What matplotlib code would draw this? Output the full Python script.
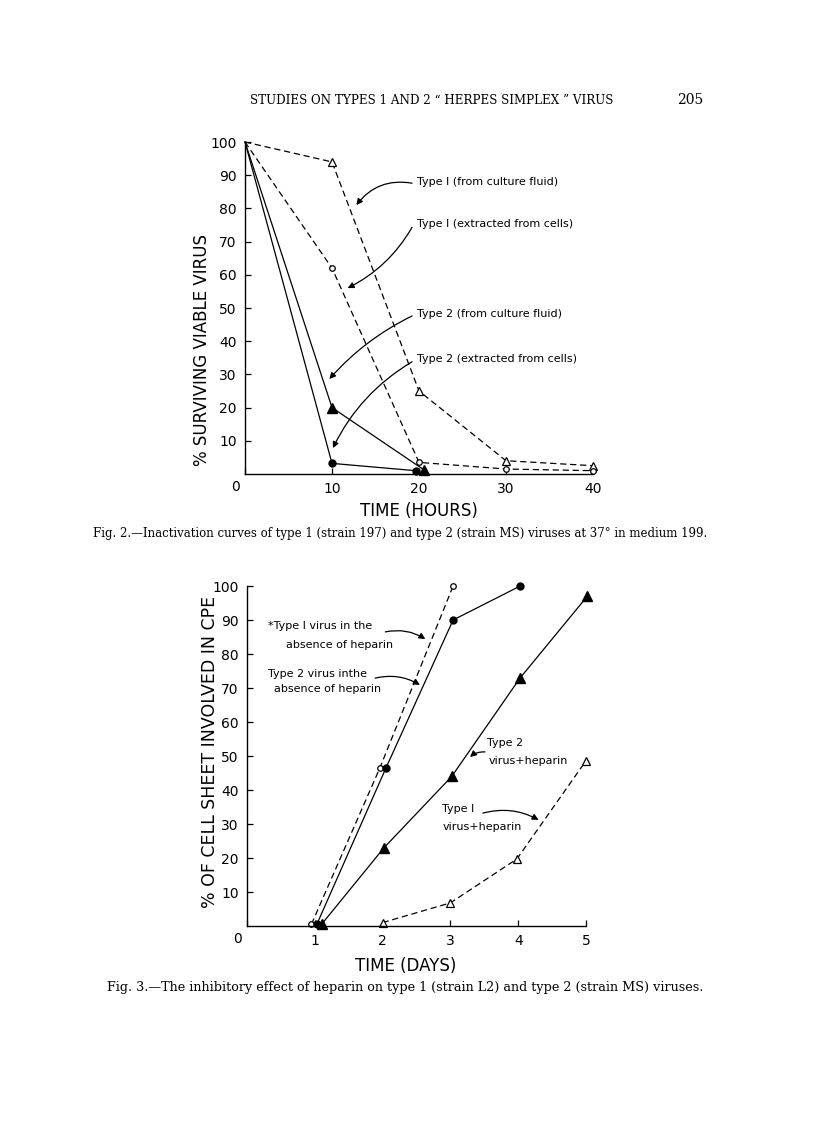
import matplotlib
matplotlib.use("Agg")
import matplotlib.pyplot as plt
from matplotlib.transforms import ScaledTranslation

# ---------------- Data: Fig. 2 (hours) ----------------
t1_fluid_x = [0, 10, 20, 30, 40]
t1_fluid_y = [100, 94, 25, 4, 2.5]
t1_cells_x = [0, 10, 20, 30, 40]
t1_cells_y = [100, 62, 3.5, 1.5, 1]
t2_fluid_x = [0, 10, 20.6]
t2_fluid_y = [100, 20, 1.2]
t2_cells_x = [0, 10, 19.6]
t2_cells_y = [100, 3.2, 1]
fig2_xticks = [0, 10, 20, 30, 40]
fig2_xticklabels = ['', '10', '20', '30', '40']
fig2_yticks = [10, 20, 30, 40, 50, 60, 70, 80, 90, 100]

# ---------------- Data: Fig. 3 (days) ----------------
t1_nohep_x = [0.95, 1.96, 3.04]
t1_nohep_y = [0.5, 46.5, 100]
t2_nohep_x = [1.03, 2.05, 3.04, 4.03]
t2_nohep_y = [0.5, 46.5, 90, 100]
t2_hep_x = [1.1, 2.02, 3.02, 4.03, 5.02]
t2_hep_y = [0.5, 23, 44, 73, 97]
t1_hep_x = [2.0, 3.0, 3.98, 5.0]
t1_hep_y = [1, 6.8, 19.7, 48.6]
fig3_xticks = [0, 1, 2, 3, 4, 5]
fig3_xticklabels = ['', '1', '2', '3', '4', '5']
fig3_yticks = [10, 20, 30, 40, 50, 60, 70, 80, 90, 100]

plt.rcParams['font.family'] = ['DejaVu Sans']

W, H = 816, 1128
fig = plt.figure(figsize=(W / 100, H / 100), dpi=100)
fig.patch.set_facecolor('white')

LW = 0.9
DASH = (0, (5, 3))
ARW = dict(arrowstyle='-|>', lw=0.9, color='black', mutation_scale=9, shrinkA=0, shrinkB=0)


def style_axes(ax, xlim, ylim, xticks, xticklabels, yticks):
    ax.set_xlim(*xlim)
    ax.set_ylim(*ylim)
    for s in ['top', 'right']:
        ax.spines[s].set_visible(False)
    for s in ['left', 'bottom']:
        ax.spines[s].set_linewidth(1.0)
    ax.set_xticks(xticks)
    ax.set_xticklabels(xticklabels)
    ax.set_yticks(yticks)
    ax.tick_params(direction='in', length=4, width=0.9, labelsize=10, pad=6)
    ax.patch.set_alpha(0)
    # corner "0" label, set slightly left of the origin as in the original
    off = ScaledTranslation(-9 / 100, -6 / 100, fig.dpi_scale_trans)
    ax.text(0, 0, '0', fontsize=10, ha='center', va='top',
            transform=ax.transData + off, clip_on=False)


# ---------------- Fig. 2 axes ----------------
ax1 = fig.add_axes([245 / W, 1 - 474 / H, 348 / W, 332 / H])
style_axes(ax1, (0, 40), (0, 100), fig2_xticks, fig2_xticklabels, fig2_yticks)
skip0 = slice(1, None)
ax1.plot(t1_fluid_x, t1_fluid_y, ls=DASH, lw=LW, color='black', marker='^', mfc='white',
         mec='black', ms=6, mew=0.9, markevery=skip0, clip_on=False)
ax1.plot(t1_cells_x, t1_cells_y, ls=DASH, lw=LW, color='black', marker='o', mfc='white',
         mec='black', ms=4, mew=0.9, markevery=skip0, clip_on=False)
ax1.plot(t2_fluid_x, t2_fluid_y, ls='-', lw=LW, color='black', marker='^', mfc='black',
         mec='black', ms=7, markevery=skip0, clip_on=False)
ax1.plot(t2_cells_x, t2_cells_y, ls='-', lw=LW, color='black', marker='o', mfc='black',
         mec='black', ms=5, markevery=skip0, clip_on=False)
ax1.set_xlabel('TIME (HOURS)', fontsize=12)
ax1.xaxis.set_label_coords(0.5, -28 / 332)
ax1.set_ylabel('% SURVIVING VIABLE VIRUS', fontsize=12)
ax1.yaxis.set_label_coords(-34 / 348, 0.5 - 42 / 332)

lbl_kw = dict(fontsize=8, ha='left', va='center')
ax1.text(19.8, 88, 'Type I (from culture fluid)', **lbl_kw)
ax1.annotate('', xy=(12.8, 81), xytext=(19.2, 87.6),
             arrowprops=dict(ARW, connectionstyle='arc3,rad=0.3'))
ax1.text(19.8, 75.3, 'Type I (extracted from cells)', **lbl_kw)
ax1.annotate('', xy=(11.8, 56), xytext=(19.2, 74.3),
             arrowprops=dict(ARW, connectionstyle='arc3,rad=-0.15'))
ax1.text(19.8, 48.2, 'Type 2 (from culture fluid)', **lbl_kw)
ax1.annotate('', xy=(9.7, 28.6), xytext=(19.2, 47.6),
             arrowprops=dict(ARW, connectionstyle='arc3,rad=0.1'))
ax1.text(19.8, 34.6, 'Type 2 (extracted from cells)', **lbl_kw)
ax1.annotate('', xy=(10.1, 7.8), xytext=(19.2, 33.8),
             arrowprops=dict(ARW, connectionstyle='arc3,rad=0.15'))

# ---------------- Fig. 3 axes ----------------
ax2 = fig.add_axes([247 / W, 1 - 926 / H, 339 / W, 340 / H])
style_axes(ax2, (0, 5), (0, 100), fig3_xticks, fig3_xticklabels, fig3_yticks)
ax2.plot(t1_nohep_x, t1_nohep_y, ls=DASH, lw=LW, color='black', marker='o', mfc='white',
         mec='black', ms=4, mew=0.9, clip_on=False)
ax2.plot(t2_nohep_x, t2_nohep_y, ls='-', lw=LW, color='black', marker='o', mfc='black',
         mec='black', ms=5, clip_on=False)
ax2.plot(t2_hep_x, t2_hep_y, ls='-', lw=LW, color='black', marker='^', mfc='black',
         mec='black', ms=7, clip_on=False)
ax2.plot(t1_hep_x, t1_hep_y, ls=DASH, lw=LW, color='black', marker='^', mfc='white',
         mec='black', ms=6, mew=0.9, clip_on=False)
ax2.set_xlabel('TIME (DAYS)', fontsize=12)
ax2.xaxis.set_label_coords(0.5 - 11 / 339, -31 / 340)
ax2.set_ylabel('% OF CELL SHEET INVOLVED IN CPE', fontsize=12.5)
ax2.yaxis.set_label_coords(-28 / 339, 0.5 + 4 / 340)

ax2.text(0.31, 88.2, '*Type I virus in the', **lbl_kw)
ax2.text(0.58, 82.6, 'absence of heparin', **lbl_kw)
ax2.annotate('', xy=(2.63, 84.4), xytext=(2.04, 86.5),
             arrowprops=dict(ARW, connectionstyle='arc3,rad=-0.2'))
ax2.text(0.31, 74.1, 'Type 2 virus inthe', **lbl_kw)
ax2.text(0.40, 69.7, 'absence of heparin', **lbl_kw)
ax2.annotate('', xy=(2.55, 70.9), xytext=(1.89, 72.9),
             arrowprops=dict(ARW, connectionstyle='arc3,rad=-0.2'))
ax2.text(3.54, 53.8, 'Type 2', **lbl_kw)
ax2.text(3.56, 48.5, 'virus+heparin', **lbl_kw)
ax2.annotate('', xy=(3.29, 49.7), xytext=(3.51, 51.2),
             arrowprops=dict(ARW, connectionstyle='arc3,rad=0.2'))
ax2.text(2.88, 34.4, 'Type I', **lbl_kw)
ax2.text(2.89, 29.1, 'virus+heparin', **lbl_kw)
ax2.annotate('', xy=(4.30, 31.2), xytext=(3.48, 33.2),
             arrowprops=dict(ARW, connectionstyle='arc3,rad=-0.2'))

# ---------------- Page text ----------------
serif = ['DejaVu Serif']
fig.text(432 / W, 1 - 100 / H, 'STUDIES ON TYPES 1 AND 2 \u201c HERPES SIMPLEX \u201d VIRUS',
         ha='center', va='center', fontsize=8.6, family=serif)
fig.text(690 / W, 1 - 100 / H, '205', ha='center', va='center', fontsize=10, family=serif)
fig.text(400 / W, 1 - 534 / H,
         'Fig. 2.\u2014Inactivation curves of type 1 (strain 197) and type 2 (strain MS) viruses at 37\u00b0 in medium 199.',
         ha='center', va='center', fontsize=8.5, family=serif)
fig.text(405 / W, 1 - 988 / H,
         'Fig. 3.\u2014The inhibitory effect of heparin on type 1 (strain L2) and type 2 (strain MS) viruses.',
         ha='center', va='center', fontsize=9.2, family=serif)

fig.savefig('out.png', dpi=100, facecolor='white')
